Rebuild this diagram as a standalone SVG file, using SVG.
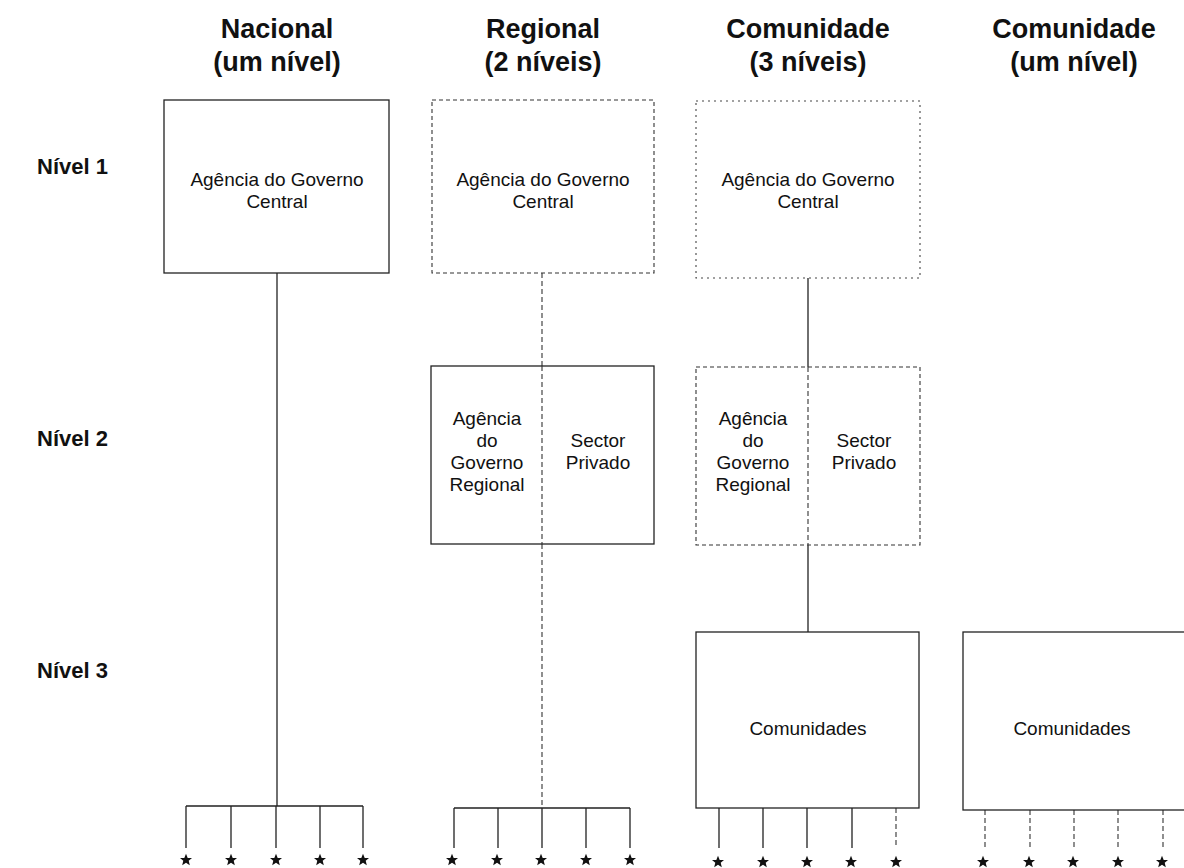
<svg xmlns="http://www.w3.org/2000/svg" width="1184" height="868" viewBox="0 0 1184 868">
  <style>
    .title { font-family: "Liberation Sans", Arial, sans-serif; font-size: 27px; font-weight: bold; fill: #111; text-anchor: middle; }
    .level { font-family: "Liberation Sans", Arial, sans-serif; font-size: 22px; font-weight: bold; fill: #111; }
    .lbl { font-family: "Liberation Sans", Arial, sans-serif; font-size: 19px; fill: #111; text-anchor: middle; }
    .solid { fill: #fff; stroke: #222; stroke-width: 1.3; }
    .dashed { fill: #fff; stroke: #333; stroke-width: 1.1; stroke-dasharray: 4 3; }
    .dotted { fill: #fff; stroke: #444; stroke-width: 1.1; stroke-dasharray: 2 4; }
    .wire { fill: none; stroke: #222; stroke-width: 1.3; }
    .wire-dash { fill: none; stroke: #333; stroke-width: 1.1; stroke-dasharray: 5 3; }
    .star { fill: #111; }
  </style>
  <defs>
    <path id="star" d="M0,-6.2 L1.7,-2 L6,-1.9 L2.7,0.8 L3.8,5.2 L0,2.7 L-3.8,5.2 L-2.7,0.8 L-6,-1.9 L-1.7,-2 Z"/>
  </defs>
  <rect width="1184" height="868" fill="#fff"/>

  <!-- column headings -->
  <g id="headings">
    <text class="title" x="277" y="38">Nacional</text>
    <text class="title" x="277" y="71">(um nível)</text>
    <text class="title" x="543" y="38">Regional</text>
    <text class="title" x="543" y="71">(2 níveis)</text>
    <text class="title" x="808" y="38">Comunidade</text>
    <text class="title" x="808" y="71">(3 níveis)</text>
    <text class="title" x="1074" y="38">Comunidade</text>
    <text class="title" x="1074" y="71">(um nível)</text>
  </g>

  <!-- row labels -->
  <g id="levels">
    <text class="level" x="37" y="174">Nível 1</text>
    <text class="level" x="37" y="446">Nível 2</text>
    <text class="level" x="37" y="678">Nível 3</text>
  </g>

  <!-- connectors -->
  <g id="connectors">
    <!-- Nacional -->
    <line class="wire" x1="277" y1="273" x2="277" y2="806"/>
    <path class="wire" d="M186,806 H363 M186,806 V848 M231,806 V848 M276,806 V848 M320,806 V848 M363,806 V848"/>
    <!-- Regional -->
    <line class="wire-dash" x1="542" y1="273" x2="542" y2="366"/>
    <line class="wire-dash" x1="542" y1="544" x2="542" y2="808"/>
    <path class="wire" d="M454,808 H630 M454,808 V848 M498,808 V848 M542,808 V848 M586,808 V848 M630,808 V848"/>
    <!-- Comunidade (3 níveis) -->
    <line class="wire" x1="808" y1="278" x2="808" y2="367"/>
    <line class="wire" x1="808" y1="545" x2="808" y2="632"/>
    <path class="wire" d="M719,808 V848 M763,808 V848 M807,808 V848 M852,808 V848"/>
    <line class="wire-dash" x1="896" y1="808" x2="896" y2="848"/>
    <!-- Comunidade (um nível) -->
    <path class="wire-dash" d="M985,810 V848 M1030,810 V848 M1074,810 V848 M1118,810 V848 M1163,810 V848"/>
  </g>

  <!-- Nacional: level 1 -->
  <g id="nacional-central">
    <rect class="solid" x="164" y="100" width="225" height="173"/>
    <text class="lbl" x="277" y="186">Agência do Governo</text>
    <text class="lbl" x="277" y="208">Central</text>
  </g>

  <!-- Regional: level 1 -->
  <g id="regional-central">
    <rect class="dashed" x="432" y="100" width="222" height="173"/>
    <text class="lbl" x="543" y="186">Agência do Governo</text>
    <text class="lbl" x="543" y="208">Central</text>
  </g>

  <!-- Regional: level 2 -->
  <g id="regional-nivel2">
    <rect class="solid" x="431" y="366" width="223" height="178"/>
    <line class="wire-dash" x1="542" y1="366" x2="542" y2="544"/>
    <text class="lbl" x="487" y="425">Agência</text>
    <text class="lbl" x="487" y="447">do</text>
    <text class="lbl" x="487" y="469">Governo</text>
    <text class="lbl" x="487" y="491">Regional</text>
    <text class="lbl" x="598" y="447">Sector</text>
    <text class="lbl" x="598" y="469">Privado</text>
  </g>

  <!-- Comunidade (3 níveis): level 1 -->
  <g id="comunidade3-central">
    <rect class="dotted" x="696" y="101" width="224" height="177"/>
    <text class="lbl" x="808" y="186">Agência do Governo</text>
    <text class="lbl" x="808" y="208">Central</text>
  </g>

  <!-- Comunidade (3 níveis): level 2 -->
  <g id="comunidade3-nivel2">
    <rect class="dashed" x="696" y="367" width="224" height="178"/>
    <line class="wire-dash" x1="808" y1="367" x2="808" y2="545"/>
    <text class="lbl" x="753" y="425">Agência</text>
    <text class="lbl" x="753" y="447">do</text>
    <text class="lbl" x="753" y="469">Governo</text>
    <text class="lbl" x="753" y="491">Regional</text>
    <text class="lbl" x="864" y="447">Sector</text>
    <text class="lbl" x="864" y="469">Privado</text>
  </g>

  <!-- Comunidade (3 níveis): level 3 -->
  <g id="comunidade3-comunidades">
    <rect class="solid" x="696" y="632" width="223" height="176"/>
    <text class="lbl" x="808" y="735">Comunidades</text>
  </g>

  <!-- Comunidade (um nível): level 3 -->
  <g id="comunidade1-comunidades">
    <rect class="solid" x="963" y="632" width="240" height="178"/>
    <text class="lbl" x="1072" y="735">Comunidades</text>
  </g>

  <!-- community markers -->
  <g id="markers" class="star">
    <use href="#star" x="186" y="860"/>
    <use href="#star" x="231" y="860"/>
    <use href="#star" x="276" y="860"/>
    <use href="#star" x="320" y="860"/>
    <use href="#star" x="363" y="860"/>
    <use href="#star" x="452" y="860"/>
    <use href="#star" x="497" y="860"/>
    <use href="#star" x="541" y="860"/>
    <use href="#star" x="586" y="860"/>
    <use href="#star" x="630" y="860"/>
    <use href="#star" x="718" y="862"/>
    <use href="#star" x="763" y="862"/>
    <use href="#star" x="807" y="862"/>
    <use href="#star" x="851" y="862"/>
    <use href="#star" x="896" y="862"/>
    <use href="#star" x="983" y="862"/>
    <use href="#star" x="1029" y="862"/>
    <use href="#star" x="1073" y="862"/>
    <use href="#star" x="1118" y="862"/>
    <use href="#star" x="1162" y="862"/>
  </g>
</svg>
